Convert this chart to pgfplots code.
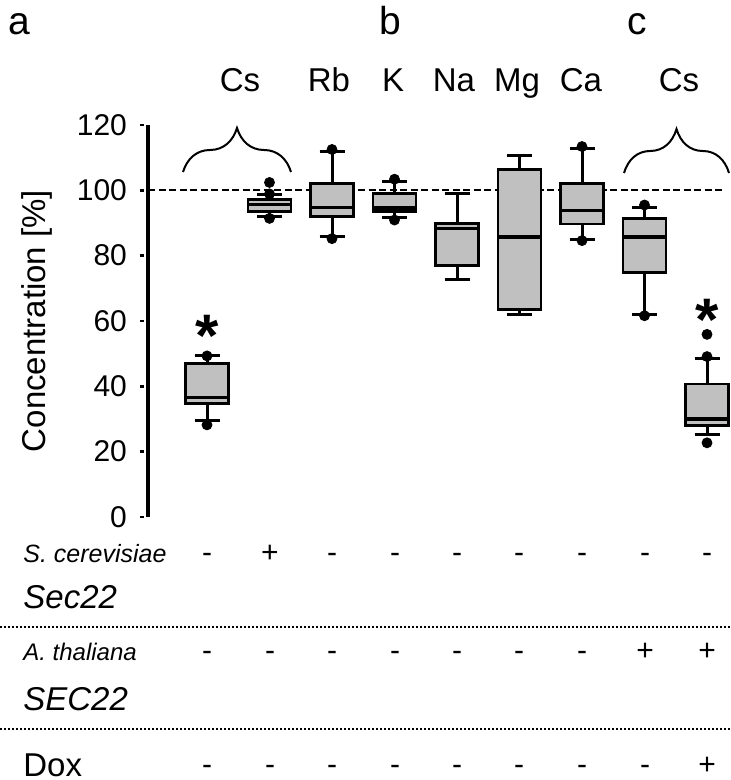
\documentclass[border=0pt]{standalone}
\usepackage{pgfplots}
\pgfplotsset{compat=1.18}
\usepgfplotslibrary{statistics}
\usetikzlibrary{decorations.pathreplacing}
\usepackage{fontspec}
\setmainfont{Liberation Sans}
\definecolor{boxgray}{RGB}{192,192,192}
\pgfplotsset{
  mybox/.style={boxplot prepared={#1, box extend=0.69, whisker extend=0.4}, draw=black, line width=1.4pt, fill=boxgray, solid},
  boxplot/every box/.style={draw=black, line width=1.4pt, fill=boxgray},
  boxplot/every whisker/.style={black, line width=1.5pt},
  boxplot/every median/.style={black, line width=1.6pt},
}
\newcommand{\fs}[1]{\fontsize{#1}{#1}\selectfont}
\begin{document}
\begin{tikzpicture}
\begin{axis}[
  x=31.25pt, y=1.633333pt,
  xmin=0.056, xmax=9.36, ymin=0, ymax=120,
  axis x line=none, axis y line*=left,
  clip=false,
  ytick={0,20,...,120}, xtick=\empty,
  tick align=outside, major tick length=2pt,
  y tick style={line width=1.4pt, xshift=-2pt, black},
  axis line style={line width=1.6pt},
  yticklabel style={font=\fs{15}, xshift=-5pt},
  /pgf/number format/assume math mode=true,
  boxplot/draw direction=y,
]
\addplot[black, line width=1pt, dash pattern=on 3.5pt off 1.75pt] coordinates {(0.056,100) (9.29,100)};
\addplot[mybox={draw position=1, lower whisker=29.4, lower quartile=34.8, median=36.5, upper quartile=47.0, upper whisker=49.3}] coordinates {};
\addplot[mybox={draw position=2, lower whisker=92.1, lower quartile=93.4, median=95.7, upper quartile=97.2, upper whisker=98.6}] coordinates {};
\addplot[mybox={draw position=3, lower whisker=85.8, lower quartile=91.9, median=94.8, upper quartile=102.1, upper whisker=112.0}] coordinates {};
\addplot[mybox={draw position=4, lower whisker=91.6, lower quartile=93.4, median=94.6, upper quartile=99.1, upper whisker=102.8}] coordinates {};
\addplot[mybox={draw position=5, lower whisker=72.8, lower quartile=77.0, median=88.4, upper quartile=89.9, upper whisker=99.1}] coordinates {};
\addplot[mybox={draw position=6, lower whisker=62.0, lower quartile=63.4, median=85.7, upper quartile=106.4, upper whisker=110.7}] coordinates {};
\addplot[mybox={draw position=7, lower whisker=85.0, lower quartile=89.7, median=93.7, upper quartile=102.1, upper whisker=112.9}] coordinates {};
\addplot[mybox={draw position=8, lower whisker=62.0, lower quartile=74.9, median=85.7, upper quartile=91.4, upper whisker=94.8}] coordinates {};
\addplot[mybox={draw position=9, lower whisker=25.1, lower quartile=27.9, median=30.0, upper quartile=40.7, upper whisker=48.6}] coordinates {};
\addplot[only marks, mark=*, mark size=2.5pt, black] coordinates {
(1,49.3) (1,28.2)
(2,102.4) (2,98.9) (2,91.4)
(3,112.5) (3,85.2)
(4,103.4) (4,90.9)
(7,113.4) (7,84.6)
(8,95.5) (8,61.6)
(9,55.9) (9,49.1) (9,22.7)
};
\coordinate (O) at (axis cs:-2.312,158.26);
\end{axis}
\begin{scope}[shift={(O)}, x=0.5pt, y=-0.5pt]
% panel letters
\node[anchor=base west, inner sep=0, font=\fs{19.5}] at (8,35) {a};
\node[anchor=base, inner sep=0, font=\fs{19.5}] at (390,35) {b};
\node[anchor=base, inner sep=0, font=\fs{19.5}] at (637,35) {c};
% element labels
\foreach \xx/\tt in {240/Cs,329/Rb,393/K,454/Na,517/Mg,581/Ca,679/Cs}
  \node[anchor=base, inner sep=0, font=\fs{16.5}] at (\xx,92) {\tt};
% braces
\draw[decorate, decoration={brace, amplitude=22pt}, line width=1pt] (183,172) -- (291,172);
\draw[decorate, decoration={brace, amplitude=22pt}, line width=1pt] (624,173) -- (729,173);
% asterisks
\node[anchor=base, inner sep=0, font=\fs{30}\bfseries] at (207,357) {*};
\node[anchor=base, inner sep=0, font=\fs{30}\bfseries] at (707,341) {*};
% y label
\node[rotate=90, inner sep=0, font=\fs{16.5}] at (37,321) {Concentration [\%]};
% bottom rows
\node[anchor=base west, inner sep=0, font=\fs{12.5}\itshape] at (23,563) {S. cerevisiae};
\node[anchor=base west, inner sep=0, font=\fs{16.5}\itshape] at (23,608) {Sec22};
\node[anchor=base west, inner sep=0, font=\fs{12}\itshape] at (23,660) {A. thaliana};
\node[anchor=base west, inner sep=0, font=\fs{16.5}\itshape] at (23,710) {SEC22};
\node[anchor=base west, inner sep=0, font=\fs{16.5}] at (23,776) {Dox};
\foreach \xx/\a/\b/\c in {207/-/-/-, 270/+/-/-, 332/-/-/-, 395/-/-/-, 457/-/-/-, 519/-/-/-, 582/-/-/-, 645/-/+/-, 707/-/+/+}{
  \node[anchor=base, inner sep=0, font=\fs{15}] at (\xx,563) {\a};
  \node[anchor=base, inner sep=0, font=\fs{15}] at (\xx,660) {\b};
  \node[anchor=base, inner sep=0, font=\fs{15}] at (\xx,774) {\c};
}
\draw[line width=1pt, dash pattern=on 1pt off 1pt] (0,627) -- (730,627);
\draw[line width=1pt, dash pattern=on 1pt off 1pt] (0,729) -- (730,729);
\pgfresetboundingbox
\path (0,0) rectangle (730,780);
\end{scope}
\end{tikzpicture}
\end{document}
